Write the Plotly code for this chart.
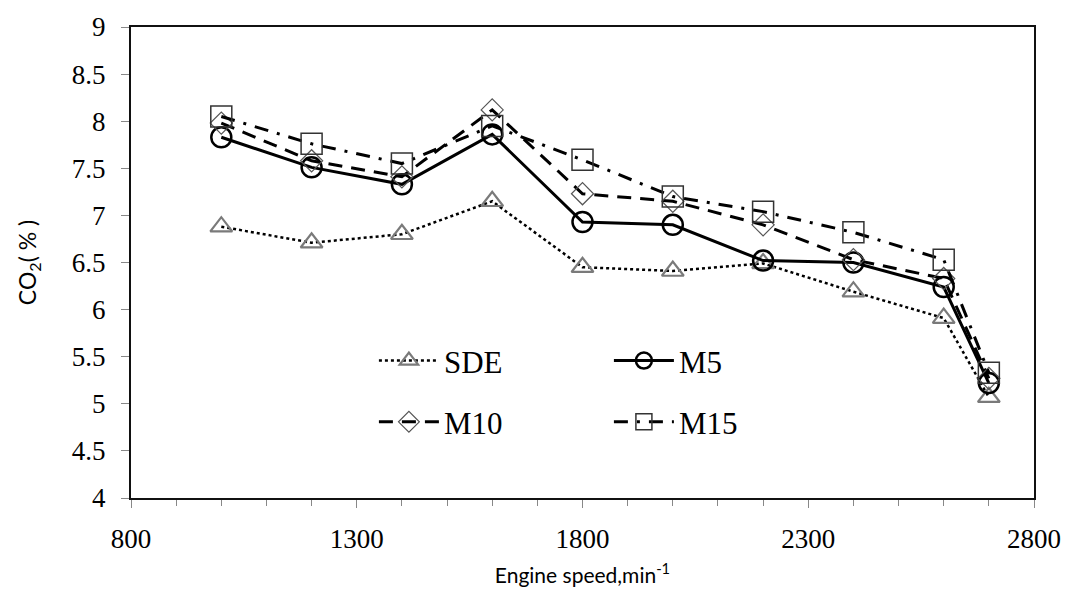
import plotly.graph_objects as go

speed = [1000, 1200, 1400, 1600, 1800, 2000, 2200, 2400, 2600, 2700]
sde = [6.88, 6.71, 6.80, 7.15, 6.45, 6.41, 6.49, 6.19, 5.91, 5.07]
m5 = [7.83, 7.51, 7.33, 7.86, 6.93, 6.90, 6.52, 6.50, 6.24, 5.22]
m10 = [7.98, 7.58, 7.41, 8.12, 7.23, 7.15, 6.90, 6.53, 6.33, 5.27]
m15 = [8.05, 7.76, 7.55, 7.95, 7.59, 7.20, 7.04, 6.82, 6.53, 5.33]

fig = go.Figure()
fig.add_trace(go.Scatter(x=speed, y=sde, name="SDE", mode="lines+markers",
                         line=dict(color="black", width=2.5, dash="dot"),
                         marker=dict(symbol="triangle-up-open", size=19,
                                     color="#7a7a7a", line=dict(width=2.2, color="#7a7a7a")),
                         legend="legend"))
fig.add_trace(go.Scatter(x=speed, y=m5, name="M5", mode="lines+markers",
                         line=dict(color="black", width=3),
                         marker=dict(symbol="circle-open", size=20,
                                     color="black", line=dict(width=2.5, color="black")),
                         legend="legend"))
fig.add_trace(go.Scatter(x=speed, y=m10, name="M10", mode="lines+markers",
                         line=dict(color="black", width=3, dash="14px,9px"),
                         marker=dict(symbol="diamond-open", size=17,
                                     color="#555555", line=dict(width=1.2, color="#555555")),
                         legend="legend2"))
fig.add_trace(go.Scatter(x=speed, y=m15, name="M15", mode="lines+markers",
                         line=dict(color="black", width=3, dash="14px,9px,3px,9px"),
                         marker=dict(symbol="square-open", size=21,
                                     color="#333333", line=dict(width=1.5, color="#333333")),
                         legend="legend2"))

legend_common = dict(orientation="h", xanchor="left", yanchor="middle",
                     entrywidth=160, entrywidthmode="pixels", itemwidth=60,
                     font=dict(family="Liberation Serif", size=31, color="black"),
                     bgcolor="rgba(0,0,0,0)", tracegroupgap=0)

fig.update_layout(
    width=1073, height=596,
    margin=dict(l=131, r=32, t=21, b=97),
    paper_bgcolor="white", plot_bgcolor="white",
    font=dict(family="Liberation Serif", color="black"),
    legend=dict(x=0.269, y=0.291, **legend_common),
    legend2=dict(x=0.269, y=0.161, **legend_common),
    xaxis=dict(range=[800, 2800], tickmode="linear", tick0=800, dtick=500,
               showgrid=False, zeroline=False,
               showline=True, linecolor="#111111", linewidth=2, mirror=True,
               ticks="outside", ticklen=8, tickwidth=1, tickcolor="#888888",
               ticklabelstandoff=8,
               minor=dict(tickmode="linear", tick0=800, dtick=100, ticks="outside",
                          ticklen=6, tickwidth=1, tickcolor="#888888"),
               tickfont=dict(family="Liberation Serif", size=27, color="black"),
               title=dict(text="Engine speed,min<sup>-1</sup>", standoff=15,
                          font=dict(family="Lato", size=21, color="black"))),
    yaxis=dict(range=[4, 9], tickmode="linear", tick0=4, dtick=0.5,
               showgrid=False, zeroline=False,
               showline=True, linecolor="#111111", linewidth=2, mirror=True,
               ticks="outside", ticklen=8, tickwidth=1, tickcolor="#888888",
               ticklabelstandoff=10,
               tickfont=dict(family="Liberation Serif", size=27, color="black"),
               title=dict(text="CO<sub>2</sub>( % )", standoff=29,
                          font=dict(family="Lato", size=23, color="black"))),
)

fig.write_html("out.html")
